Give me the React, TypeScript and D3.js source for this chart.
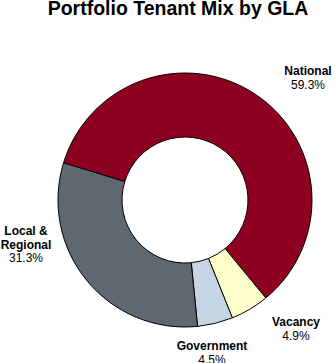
import React from "react";
import * as d3 from "d3";

const categories = ["National", "Vacancy", "Government", "Local & Regional"];
const shares = [59.3, 4.9, 4.5, 31.3];
const labelLines = [["National", "59.3%"], ["Vacancy", "4.9%"], ["Government", "4.5%"], ["Local &", "Regional", "31.3%"]];
const boldLineCount = [1, 1, 1, 2];

const colors = ["#8e0020", "#ffffcc", "#c6d5e6", "#5f6770"];
const labelPos: [number, number][] = [[308, 75], [296, 326], [212, 350], [26, 235]];

const W = 335, H = 363;
const cx = 185, cy = 200;
const outerR = 127, innerR = 63;
const startDeg = 287;

export default function App() {
  const pie = d3
    .pie<number>()
    .sort(null)
    .value((d) => d)
    .startAngle((startDeg * Math.PI) / 180)
    .endAngle((startDeg * Math.PI) / 180 + 2 * Math.PI);
  const arcs = pie(shares);
  const arc = d3.arc<d3.PieArcDatum<number>>().innerRadius(innerR).outerRadius(outerR);
  const font = "'Liberation Sans', Arial, Helvetica, sans-serif";
  return (
    <svg width={W} height={H} style={{ position: "absolute", left: 0, top: 0, background: "#fff" }} fontFamily={font}>
      <text x={178} y={15} textAnchor="middle" fontSize={19.5} fontWeight="bold" fill="#000">
        Portfolio Tenant  Mix by GLA
      </text>
      <g transform={`translate(${cx},${cy})`}>
        {arcs.map((a, i) => (
          <path key={categories[i]} d={arc(a) || ""} fill={colors[i]} stroke="#000" strokeWidth={1} />
        ))}
      </g>
      {labelLines.map((lines, i) => (
        <text key={categories[i]} x={labelPos[i][0]} y={labelPos[i][1]} textAnchor="middle" fontSize={12} fill="#000">
          {lines.map((ln, j) => (
            <tspan key={j} x={labelPos[i][0]} dy={j === 0 ? 0 : 13.5} fontWeight={j < boldLineCount[i] ? "bold" : "normal"}>
              {ln}
            </tspan>
          ))}
        </text>
      ))}
    </svg>
  );
}
